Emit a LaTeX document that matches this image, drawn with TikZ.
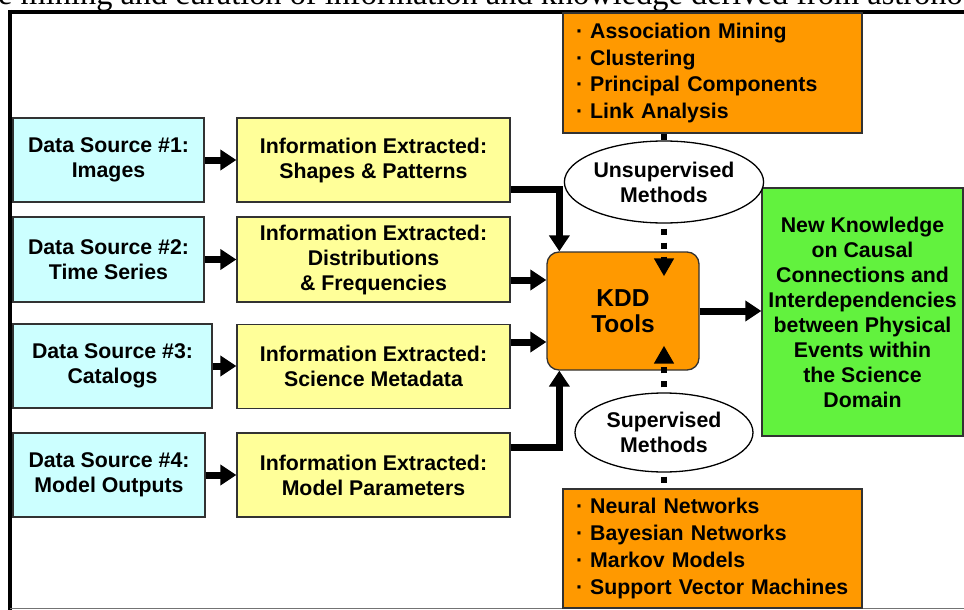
\documentclass[tikz,border=0pt]{standalone}
\usepackage{fontspec}
\setmainfont{Liberation Serif}
\newfontfamily\hv{Liberation Sans}
\usetikzlibrary{arrows.meta,shapes.geometric,calc}
\definecolor{dscol}{RGB}{204,255,255}
\definecolor{iecol}{RGB}{255,255,153}
\definecolor{orcol}{RGB}{255,153,0}
\definecolor{grcol}{RGB}{98,242,62}
\definecolor{edgecol}{RGB}{50,50,50}
\begin{document}
\begin{tikzpicture}[x=1pt,y=-1pt,
  every node/.style={font=\hv\bfseries\fontsize{21.3}{25}\selectfont, text=black},
  boxbase/.style={draw=edgecol, line width=1.3pt, inner sep=0pt, align=center},
  dsbox/.style={boxbase, fill=dscol, minimum height=84pt},
  iebox/.style={boxbase, fill=iecol, minimum width=273pt, minimum height=84pt},
  kddbox/.style={boxbase, fill=orcol, rounded corners=12pt, minimum width=152pt, minimum height=118pt,
     font=\hv\bfseries\fontsize{24.5}{26}\selectfont},
  listbox/.style={boxbase, fill=orcol, minimum width=299pt, text width=273pt, align=left,
     font=\hv\bfseries\fontsize{21.3}{26.7}\selectfont},
  greenbox/.style={boxbase, fill=grcol, minimum width=201pt, minimum height=248pt},
  methodell/.style={ellipse, draw=black, line width=1.3pt, fill=white, inner sep=0pt,
     minimum width=178pt, minimum height=82pt, align=center},
  bigarrow/.style={line width=7pt, line join=miter, -{Triangle[width=20pt,length=16pt]}},
  dashln/.style={line width=6pt, dash pattern=on 6pt off 8pt},
  dasharr/.style={line width=6pt, dash pattern=on 6pt off 8pt, -{Triangle[width=19pt,length=18pt]}}
]
\useasboundingbox (0,0) rectangle (964,610);
\clip (0,0) rectangle (964,610);
\fill[white] (0,0) rectangle (964,610);

% clipped caption text at top
\node[font=\rmfamily\fontsize{32.4}{36}\selectfont, anchor=base west, inner sep=0pt] (cap) at (-2,5)
  {e mining and curation of information and knowledge derived from astrono};

% frame
\draw[line width=4pt] (8,12) -- (966,12);
\draw[line width=4pt] (10,10) -- (10,612);
\draw[line width=1pt, black!55] (10,608) -- (966,608);

% data sources
\node[dsbox, minimum width=191pt] (ds1) at (108.5,160) {Data Source \#1:\\Images};
\node[dsbox, minimum width=191pt, minimum height=85pt] (ds2) at (108.5,259.5) {Data Source \#2:\\Time Series};
\node[dsbox, minimum width=199pt] (ds3) at (112.5,366) {Data Source \#3:\\Catalogs};
\node[dsbox, minimum width=192pt] (ds4) at (109,475) {Data Source \#4:\\Model Outputs};

% information extracted
\node[iebox] (ie1) at (373.5,160) {Information Extracted:\\Shapes \& Patterns};
\node[iebox, minimum height=85pt] (ie2) at (373.5,259.5) {Information Extracted:\\Distributions\\\& Frequencies};
\node[iebox] (ie3) at (373.5,366.5) {Information Extracted:\\Science Metadata};
\node[iebox] (ie4) at (373.5,475) {Information Extracted:\\Model Parameters};

% KDD
\node[kddbox] (kdd) at (623,311) {KDD\\Tools};

% new knowledge
\node[greenbox] (nk) at (862.5,312) {New Knowledge\\on Causal\\Connections and\\Interdependencies\\between Physical\\Events within\\the Science\\Domain};

% method lists
\node[listbox, minimum height=120pt] (ulist) at (712.5,73)
  {·\ Association Mining\\·\ Clustering\\·\ Principal Components\\·\ Link Analysis};
\node[listbox, minimum height=119pt] (slist) at (712.5,548.5)
  {·\ Neural Networks\\·\ Bayesian Networks\\·\ Markov Models\\·\ Support Vector Machines};

% ellipses
\node[methodell] (uns) at (664,182) {Unsupervised\\Methods};
\node[methodell, minimum height=79pt] (sup) at (664,432.5) {Supervised\\Methods};

% solid arrows
\draw[bigarrow] (ds1.east) -- (ie1.west);
\draw[bigarrow] (ds2.east) -- (ie2.west);
\draw[bigarrow] (ds3.east -| ds3.east) -- (ds3.east -| ie3.west);
\draw[bigarrow] (ds4.east) -- (ie4.west);

\draw[bigarrow] ([yshift=-29pt]ie1.east) -| ([xshift=13pt]kdd.north west);
\draw[bigarrow] ([yshift=-20.5pt]ie2.east) -- ([yshift=-20.5pt]ie2.east -| kdd.west);
\draw[bigarrow] ([yshift=24.5pt]ie3.east) -- ([yshift=24.5pt]ie3.east -| kdd.west);
\draw[bigarrow] ([yshift=28pt]ie4.east) -| ([xshift=13pt]kdd.south west);
\draw[bigarrow] (kdd.east) -- (kdd.east -| nk.west);

% dashed connectors
\coordinate (utip) at ($(uns.south |- kdd.north)+(0,25)$);
\coordinate (stip) at ($(sup.north |- kdd.south)+(0,-25)$);
\draw[dashln] (uns.north |- ulist.south) -- (uns.north);
\draw[dasharr] ([yshift=-5pt]uns.south) -- (utip);
\draw[dasharr] ([yshift=5pt]sup.north) -- (stip);
\draw[dashln, dash phase=-4pt] (sup.south) -- (sup.south |- slist.north);
\end{tikzpicture}
\end{document}
